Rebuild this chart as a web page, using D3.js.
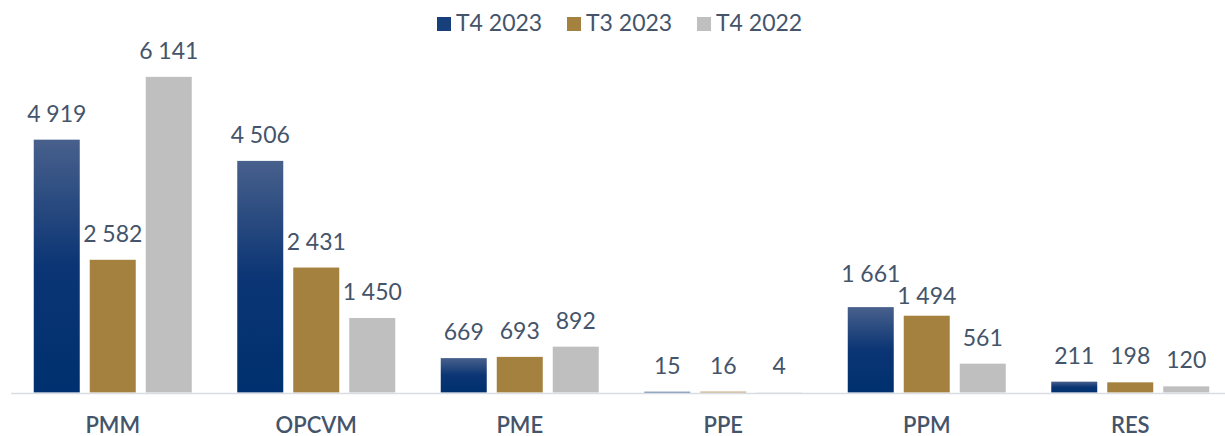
<!DOCTYPE html>
<html>
<head>
<meta charset="utf-8">
<script src="https://cdn.jsdelivr.net/npm/d3@7"></script>
<style>
  body { margin: 0; background: #fff; }
  text { font-family: Lato, "Liberation Sans", sans-serif; fill: #44546a; }
  .val { font-size: 23px; text-anchor: middle; }
  .cat { font-size: 22px; text-anchor: middle; font-weight: 600; }
  .leg { font-size: 23px; }
</style>
</head>
<body>
<script>
const categories = ['PMM', 'OPCVM', 'PME', 'PPE', 'PPM', 'RES'];
const seriesNames = ['T4 2023', 'T3 2023', 'T4 2022'];
const t4_2023 = [4919, 4506, 669, 15, 1661, 211];
const t3_2023 = [2582, 2431, 693, 16, 1494, 198];
const t4_2022 = [6141, 1450, 892, 4, 561, 120];
const series = [t4_2023, t3_2023, t4_2022];

const width = 1225, height = 436;
const fmt = v => d3.format(',')(v).replace(/,/g, ' ');

// labels moved by hand in the original to avoid overlap
const labelNudge = { 'PPM-0': -7, 'PPM-1': 6 };

const svg = d3.select('body')
  .append('svg')
  .attr('width', width)
  .attr('height', height);

const defs = svg.append('defs');
const grad = defs.append('linearGradient')
  .attr('id', 'blueGrad')
  .attr('x1', 0).attr('y1', 0).attr('x2', 0).attr('y2', 1);
grad.append('stop').attr('offset', '0%').attr('stop-color', '#48608c');
grad.append('stop').attr('offset', '50%').attr('stop-color', '#0b3574');
grad.append('stop').attr('offset', '100%').attr('stop-color', '#00306f');

const colors = ['url(#blueGrad)', '#a5813f', '#bfbfbf'];
const legendColors = ['#163f7c', '#a5813f', '#bfbfbf'];

const x0 = d3.scaleBand()
  .domain(categories)
  .range([11, 1232]);

const x1 = d3.scaleBand()
  .domain(d3.range(3))
  .range([0, 158])
  .paddingInner(10 / 56);

const y = d3.scaleLinear()
  .domain([0, 7000])
  .range([392.5, 392.5 - 7000 * 0.0514]);

const groups = svg.selectAll('.grp')
  .data(categories)
  .enter()
  .append('g')
  .attr('class', 'grp')
  .attr('transform', c => `translate(${x0(c) + (x0.bandwidth() - 158) / 2},0)`);

groups.selectAll('rect')
  .data((c, i) => series.map((s, k) => ({ c, k, v: s[i] })))
  .enter()
  .append('rect')
  .attr('x', d => x1(d.k))
  .attr('width', x1.bandwidth())
  .attr('y', d => y(d.v))
  .attr('height', d => y(0) - y(d.v))
  .attr('fill', d => colors[d.k]);

groups.selectAll('.val')
  .data((c, i) => series.map((s, k) => ({ c, k, v: s[i] })))
  .enter()
  .append('text')
  .attr('class', 'val')
  .attr('x', d => x1(d.k) + x1.bandwidth() / 2)
  .attr('y', d => y(d.v) - 18 + (labelNudge[d.c + '-' + d.k] || 0))
  .text(d => fmt(d.v));

// axis baseline
svg.append('line')
  .attr('x1', 11).attr('x2', width)
  .attr('y1', 393.5).attr('y2', 393.5)
  .attr('stroke', '#d9dde3')
  .attr('stroke-width', 1.5);

const xAxis = svg.append('g')
  .attr('transform', 'translate(0,393.5)')
  .call(d3.axisBottom(x0).tickSize(0).tickPadding(0));
xAxis.select('.domain').remove();
xAxis.selectAll('text')
  .attr('class', 'cat')
  .attr('dy', null)
  .attr('y', 39)
  .attr('fill', null);

// legend
const legend = svg.append('g')
  .attr('transform', 'translate(437,0)');
const li = legend.selectAll('g')
  .data(seriesNames)
  .enter()
  .append('g')
  .attr('transform', (d, i) => `translate(${i * 130},0)`);
li.append('rect')
  .attr('y', 17).attr('width', 14).attr('height', 14)
  .attr('fill', (d, i) => legendColors[i]);
li.append('text')
  .attr('class', 'leg')
  .attr('x', 19).attr('y', 31)
  .text(d => d);
</script>
</body>
</html>
